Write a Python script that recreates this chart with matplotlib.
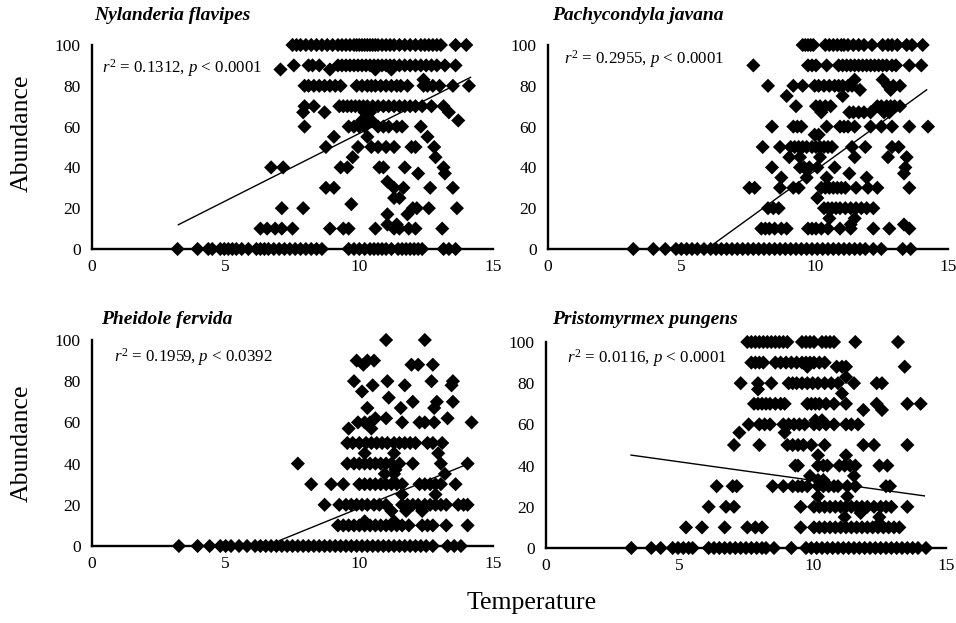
import matplotlib
matplotlib.use("Agg")
import matplotlib.pyplot as plt
from matplotlib.ticker import FixedLocator

plt.rcParams['font.family'] = ['Liberation Serif', 'DejaVu Serif']
plt.rcParams['mathtext.fontset'] = 'custom'
plt.rcParams['mathtext.rm'] = 'Liberation Serif'
plt.rcParams['mathtext.it'] = 'Liberation Serif:italic'

# --- data: abundance level -> temperatures of the points on that level ---
nylanderia = {
    100: [7.5, 7.65, 7.8, 8.0, 8.2, 8.4, 8.6, 8.8, 9.0, 9.2, 9.35, 9.5, 9.65, 9.8, 9.9, 10.0, 10.1, 10.2,
          10.3, 10.4, 10.5, 10.6, 10.7, 10.85, 11.0, 11.15, 11.3, 11.5, 11.7, 11.9, 12.1, 12.3, 12.45,
          12.6, 12.75, 12.9, 13.05, 13.6, 14.0],
    90: [7.55, 8.1, 8.25, 8.5, 9.2, 9.35, 9.5, 9.65, 9.8, 9.95, 10.1, 10.25, 10.4, 10.55, 10.7, 10.85,
         11.0, 11.15, 11.3, 11.5, 11.7, 11.9, 12.1, 12.3, 12.5, 12.7, 12.9, 13.2, 13.6],
    88: [7.05, 8.9, 10.6, 11.2],
    83: [12.4],
    80: [7.95, 8.1, 8.3, 8.5, 8.7, 8.9, 9.1, 9.3, 9.9, 10.1, 10.3, 10.45, 10.6, 10.8, 11.0, 11.2, 11.4,
         11.55, 11.8, 12.4, 12.55, 12.75, 13.0, 13.5, 14.1],
    70: [7.95, 8.3, 9.25, 9.4, 9.55, 9.7, 9.85, 10.0, 10.15, 10.3, 10.5, 10.7, 10.9, 11.1, 11.3, 11.5,
         11.7, 11.9, 12.1, 12.35, 12.7, 13.15],
    67: [7.9, 8.7, 10.2, 10.4, 13.35],
    63: [10.1, 10.3, 10.45, 13.7],
    60: [7.95, 9.6, 9.8, 10.0, 10.2, 10.7, 10.9, 11.1, 11.4, 11.6, 12.3],
    55: [9.05, 10.3, 12.55],
    50: [8.75, 9.95, 10.45, 10.7, 11.0, 11.3, 11.95, 12.1, 12.8],
    45: [9.75, 12.85],
    40: [6.7, 7.15, 9.3, 9.55, 10.75, 10.9, 11.7, 13.15],
    37: [12.2, 13.2],
    33: [11.05],
    30: [8.75, 9.05, 11.3, 11.65, 12.65, 13.5],
    25: [11.3, 11.5],
    22: [9.7],
    20: [7.1, 7.9, 12.0, 12.15, 12.6, 13.65],
    17: [11.05, 11.8],
    12: [11.05, 11.4],
    10: [6.3, 6.55, 6.85, 7.1, 7.5, 8.9, 9.4, 9.6, 10.6, 11.3, 11.5, 11.85, 12.1, 13.1],
    0: [3.2, 3.95, 4.35, 4.5, 4.8, 4.95, 5.1, 5.25, 5.4, 5.6, 5.85, 6.15, 6.3, 6.45, 6.6, 6.8, 7.0, 7.2,
        7.4, 7.6, 7.8, 8.0, 8.2, 8.4, 8.6, 9.6, 9.8, 10.0, 10.2, 10.4, 10.55, 10.7, 10.85, 11.0, 11.2,
        11.45, 11.6, 11.75, 11.9, 12.05, 12.2, 12.35, 13.15, 13.35, 13.6],
}

pachycondyla = {
    100: [9.55, 9.65, 9.75, 9.85, 9.95, 10.4, 10.55, 10.7, 10.85, 11.0, 11.1, 11.25, 11.45, 11.65, 11.85,
          12.15, 12.55, 12.75, 12.9, 13.1, 13.45, 13.65, 14.05],
    90: [7.7, 9.75, 9.9, 10.05, 10.45, 10.9, 11.05, 11.2, 11.35, 11.5, 11.65, 11.8, 11.95, 12.1, 12.25,
         12.4, 12.55, 12.7, 12.9, 13.05, 13.55, 14.0],
    83: [11.5, 12.55],
    80: [8.25, 9.2, 9.55, 10.0, 10.15, 10.35, 10.55, 10.75, 10.9, 11.05, 11.25, 11.4, 12.75, 12.95, 13.2],
    78: [11.7, 12.85],
    75: [8.95, 11.05],
    70: [9.3, 10.05, 10.2, 10.4, 10.6, 12.35, 12.5, 12.7, 12.85, 13.0, 13.2],
    67: [10.25, 11.3, 11.45, 11.65, 11.85, 12.1, 12.6, 12.8],
    60: [8.4, 9.2, 9.35, 9.5, 10.45, 10.95, 11.1, 11.25, 11.5, 12.1, 12.5, 12.9, 13.55, 14.25],
    56: [10.0, 10.15],
    50: [8.05, 8.7, 9.1, 9.25, 9.4, 9.55, 9.7, 9.9, 10.05, 10.2, 10.35, 10.5, 10.65, 11.4, 11.9, 12.9, 13.15],
    45: [9.05, 9.45, 10.2, 11.5, 12.75, 13.45],
    40: [8.4, 9.45, 9.6, 9.8, 10.1, 10.75, 13.4],
    37: [11.3, 13.35],
    35: [8.75, 9.7, 10.45, 11.95],
    30: [7.55, 7.75, 8.7, 9.2, 9.4, 10.25, 10.4, 10.55, 10.7, 10.85, 11.0, 11.15, 11.55, 12.0, 12.35, 13.55],
    25: [10.1],
    20: [8.25, 8.45, 8.65, 10.35, 10.5, 10.65, 10.8, 10.95, 11.15, 11.35, 11.55, 11.75, 11.95, 12.2],
    15: [10.55, 11.5],
    12: [11.35, 13.35],
    10: [8.0, 8.15, 8.3, 8.5, 8.75, 8.95, 9.75, 9.9, 10.05, 10.25, 10.5, 10.95, 11.35, 12.2, 12.8, 13.55],
    0: [3.2, 3.95, 4.4, 4.8, 5.0, 5.2, 5.4, 5.6, 5.85, 6.1, 6.3, 6.5, 6.7, 6.9, 7.1, 7.3, 7.5, 7.7, 7.9,
        8.1, 8.3, 8.5, 8.7, 8.9, 9.1, 9.3, 9.5, 9.7, 9.9, 10.1, 10.3, 10.5, 10.7, 10.9, 11.1, 11.3, 11.5,
        11.7, 11.9, 12.2, 12.5, 13.3, 13.6],
}

pheidole = {
    100: [11.0, 12.45],
    90: [9.9, 10.3, 10.55],
    88: [10.15, 11.95, 12.2, 12.75],
    80: [9.8, 11.05, 12.7, 13.5],
    78: [10.5, 11.7, 13.45],
    75: [10.1],
    72: [11.1],
    70: [12.0, 12.9, 13.5],
    67: [10.3, 11.55, 12.8],
    62: [10.6, 11.0, 13.3],
    60: [9.95, 10.2, 10.4, 11.6, 12.25, 12.45, 12.8, 14.2],
    57: [9.6, 10.45],
    50: [9.55, 9.75, 10.0, 10.25, 10.45, 10.65, 10.85, 11.05, 11.3, 11.5, 11.7, 11.9, 12.1, 12.55, 12.75, 13.1],
    45: [10.2, 11.3, 12.95],
    40: [7.7, 9.55, 9.8, 10.0, 10.2, 10.4, 10.6, 10.8, 11.0, 11.2, 11.5, 12.0, 13.05, 14.05],
    37: [11.35],
    35: [10.95, 11.3, 13.2],
    30: [8.2, 8.95, 9.4, 10.0, 10.2, 10.4, 10.6, 10.8, 11.0, 11.2, 11.4, 11.6, 12.25, 12.45, 12.65, 12.85,
         13.05, 13.6],
    25: [11.6, 12.85],
    20: [8.7, 9.25, 9.5, 9.7, 9.9, 10.1, 10.3, 10.55, 10.75, 11.0, 11.6, 11.8, 12.0, 12.2, 12.45, 12.65,
         12.85, 13.05, 13.25, 13.7, 13.9, 14.05],
    17: [11.2, 11.75, 12.35],
    12: [10.2, 11.3],
    10: [9.2, 9.4, 9.6, 9.8, 10.0, 10.2, 10.4, 10.6, 10.8, 11.0, 11.2, 11.4, 11.6, 11.85, 12.35, 12.55,
         12.75, 13.25, 14.05],
    0: [3.25, 3.95, 4.4, 4.8, 5.0, 5.2, 5.5, 5.8, 6.1, 6.3, 6.5, 6.7, 6.9, 7.1, 7.3, 7.5, 7.7, 7.9, 8.1,
        8.3, 8.5, 8.7, 8.9, 9.1, 9.3, 9.5, 9.7, 9.9, 10.1, 10.3, 10.5, 10.7, 10.9, 11.1, 11.3, 11.5, 11.7,
        11.9, 12.1, 12.3, 12.5, 12.75, 13.3, 13.55, 13.8],
}

pristomyrmex = {
    100: [7.55, 7.7, 7.85, 8.0, 8.15, 8.3, 8.45, 8.6, 8.75, 8.9, 9.05, 9.6, 9.75, 9.9, 10.05, 10.35, 10.5,
          10.65, 10.8, 11.6, 13.2],
    90: [7.7, 7.85, 8.0, 8.15, 8.6, 8.8, 9.0, 9.2, 9.4, 9.6, 9.75, 9.9, 10.05, 10.25, 10.45],
    88: [9.8, 10.9, 11.1, 11.25, 13.45],
    83: [11.25],
    80: [7.3, 7.95, 8.45, 9.1, 9.25, 9.4, 9.6, 9.8, 10.0, 10.2, 10.45, 10.7, 10.95, 11.55, 12.4, 12.6],
    77: [7.95],
    75: [11.1],
    70: [7.8, 7.95, 8.1, 8.25, 8.4, 8.6, 8.8, 8.95, 9.8, 9.95, 10.1, 10.25, 10.5, 10.8, 11.25, 12.4, 13.55, 14.05],
    67: [11.9, 12.6],
    62: [10.1, 10.35],
    60: [7.6, 8.0, 8.2, 8.4, 8.9, 9.1, 9.3, 9.5, 9.7, 10.05, 10.25, 10.5, 10.8, 11.25, 11.45, 11.7],
    56: [7.25, 8.95],
    50: [7.05, 8.0, 9.05, 9.25, 9.45, 9.65, 9.95, 10.45, 11.9, 12.3, 13.55],
    45: [10.2, 11.25],
    40: [9.35, 9.45, 10.2, 10.4, 10.55, 11.0, 11.2, 11.4, 11.6, 12.5, 12.8],
    35: [9.9, 11.55],
    33: [10.2, 10.4],
    30: [6.4, 7.0, 7.15, 8.5, 8.9, 9.25, 9.45, 9.6, 9.8, 10.2, 10.4, 10.6, 10.8, 10.95, 11.3, 11.6, 12.75, 12.9],
    25: [10.2, 11.3],
    20: [6.1, 6.75, 7.05, 9.55, 10.05, 10.25, 10.45, 10.65, 10.85, 11.05, 11.25, 11.45, 11.65, 11.85,
         12.05, 12.3, 12.55, 12.75, 12.95, 13.55],
    17: [11.8],
    15: [11.2, 12.5],
    12: [12.5],
    10: [5.25, 5.85, 6.7, 7.55, 7.85, 8.1, 9.55, 10.05, 10.25, 10.45, 10.65, 10.85, 11.05, 11.25, 11.45,
         11.65, 11.85, 12.05, 12.25, 12.45, 12.65, 12.85, 13.05, 13.25],
    0: [3.2, 3.95, 4.3, 4.75, 4.95, 5.15, 5.35, 5.5, 6.1, 6.3, 6.5, 6.7, 6.9, 7.1, 7.3, 7.5, 7.7, 7.9, 8.1,
        8.25, 8.55, 9.2, 9.75, 9.95, 10.15, 10.35, 10.55, 10.75, 10.95, 11.15, 11.35, 11.55, 11.75, 11.95,
        12.15, 12.35, 12.55, 12.75, 12.95, 13.15, 13.35, 13.55, 13.75, 13.95, 14.25],
}

species = ["Nylanderia flavipes", "Pachycondyla javana", "Pheidole fervida", "Pristomyrmex pungens"]
stats = ["0.1312", "0.2955", "0.1959", "0.0116"]
pvals = ["0.0001", "0.0001", "0.0392", "0.0001"]
# fitted line: slope, intercept, x range
slopes = [6.61, 9.46, 5.27, -1.80]
intercepts = [-9.45, -56.3, -34.3, 50.84]
fit_ranges = [(3.23, 14.16), (6.06, 14.2), (7.0, 14.06), (3.19, 14.19)]
datasets = [nylanderia, pachycondyla, pheidole, pristomyrmex]

# --- layout (figure fractions) ---
W, H = 956, 623
boxes = [(92, 493, 45, 249), (548, 948, 45, 249), (92, 493, 340, 546), (546, 946, 342, 548)]
title_pos = [(0.005, 1.147), (0.01, 1.147), (0.022, 1.10), (0.015, 1.107)]
stat_pos = [(0.025, 0.887), (0.041, 0.93), (0.055, 0.917), (0.053, 0.922)]

fig = plt.figure(figsize=(W / 100, H / 100), dpi=100)

for i, rows in enumerate(datasets):
    x0, x1, ytop, ybot = boxes[i]
    ax = fig.add_axes([x0 / W, 1 - ybot / H, (x1 - x0) / W, (ybot - ytop) / H])
    xs = [t for level, temps in rows.items() for t in temps]
    ys = [level for level, temps in rows.items() for t in temps]
    ax.scatter(xs, ys, marker='D', s=52, color='black', edgecolors='none', clip_on=False, zorder=3)

    lo, hi = fit_ranges[i]
    ax.plot([lo, hi], [slopes[i] * lo + intercepts[i], slopes[i] * hi + intercepts[i]],
            color='black', lw=1.0, zorder=4)

    ax.set_xlim(0, 15)
    ax.set_ylim(0, 100)
    ax.set_xticks([0, 5, 10, 15])
    ax.set_yticks([0, 20, 40, 60, 80, 100])
    ax.tick_params(axis='both', which='major', length=0, labelsize=12.5)
    ax.tick_params(axis='y', which='major', pad=8)
    ax.tick_params(axis='x', which='major', pad=7)
    # small end marks like the original
    ax.yaxis.set_minor_locator(FixedLocator([100]))
    ax.xaxis.set_minor_locator(FixedLocator([15]))
    ax.tick_params(which='minor', direction='in', length=4, width=1.6, color='black')

    for side in ['top', 'right']:
        ax.spines[side].set_visible(False)
    for side in ['left', 'bottom']:
        ax.spines[side].set_linewidth(1.7)
        ax.spines[side].set_color('black')
    ax.patch.set_visible(False)

    tx, ty = title_pos[i]
    ax.text(tx, ty, species[i], transform=ax.transAxes, fontsize=14,
            fontweight='bold', fontstyle='italic', ha='left', va='center')
    sx, sy = stat_pos[i]
    ax.text(sx, sy, r'$\mathit{r}^2$ = ' + stats[i] + r', $\mathit{p}$ < ' + pvals[i],
            transform=ax.transAxes, fontsize=12.2, ha='left', va='center')

fig.text(22 / W, 1 - 133 / H, "Abundance", rotation=90, fontsize=18.5, ha='center', va='center')
fig.text(22 / W, 1 - 443 / H, "Abundance", rotation=90, fontsize=18.5, ha='center', va='center')
fig.text(532 / W, 1 - 603 / H, "Temperature", fontsize=18.5, ha='center', va='center')

fig.savefig("out.png", dpi=100)
